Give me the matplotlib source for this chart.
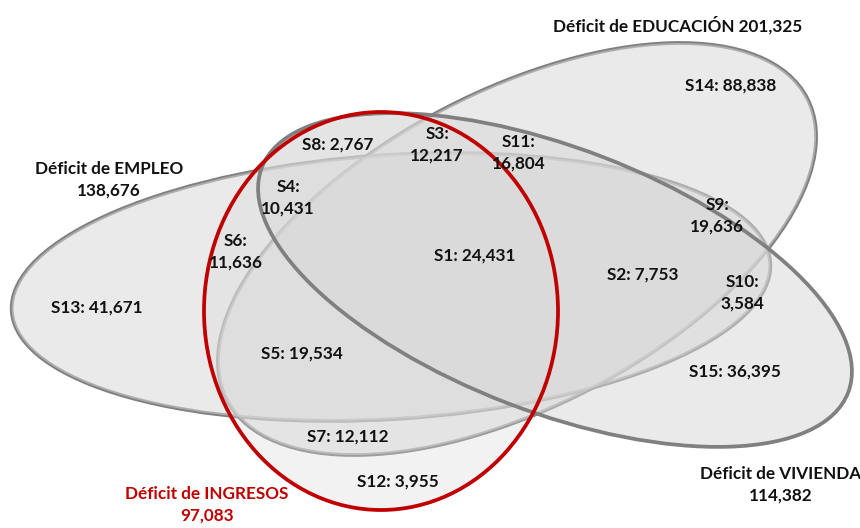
import matplotlib.pyplot as plt
from matplotlib.patches import Ellipse

# sets and totals
set_names = ["EMPLEO", "EDUCACIÓN", "VIVIENDA", "INGRESOS"]
set_totals = [138676, 201325, 114382, 97083]

# region labels and counts
regions = ["S1", "S2", "S3", "S4", "S5", "S6", "S7", "S8",
           "S9", "S10", "S11", "S12", "S13", "S14", "S15"]
values = [24431, 7753, 12217, 10431, 19534, 11636, 12112, 2767,
          19636, 3584, 16804, 3955, 41671, 88838, 36395]
two_line = ["S3", "S4", "S6", "S9", "S10", "S11"]

# layout (pixel space, y down)
ell_center = [(391, 287), (517, 249), (555, 280), (381, 311)]
ell_size = [(760, 264), (654, 316), (628, 264), (354, 398)]
ell_angle = [-3.65, -27.5, 21, 0]
ell_edge = ["#808080", "#808080", "#808080", "#C00000"]
ell_face = ["#d7d7d7", "#d7d7d7", "#d7d7d7", "#dadada"]
ell_alpha = [0.52, 0.52, 0.52, 0.33]
edge_below = [True, True, False, False]

region_pos = {
    "S1": (475, 256), "S2": (643, 275), "S3": (437, 145), "S4": (288, 198),
    "S5": (302, 354), "S6": (236, 252), "S7": (348, 437), "S8": (338, 145),
    "S9": (717, 216), "S10": (742, 293), "S11": (519, 153), "S12": (398, 482),
    "S13": (97, 308), "S14": (731, 86), "S15": (735, 372),
}
set_label_pos = [(109, 180), (678, 25), (781, 485), (207, 505)]

plt.rcParams['font.family'] = ['Lato', 'DejaVu Sans']

fig = plt.figure(figsize=(8.6, 5.28), dpi=100)
ax = fig.add_axes([0, 0, 1, 1])
ax.set_xlim(0, 860)
ax.set_ylim(528, 0)
ax.axis('off')

for i in range(4):
    if edge_below[i]:
        ax.add_patch(Ellipse(ell_center[i], *ell_size[i], angle=ell_angle[i],
                             fill=False, edgecolor=ell_edge[i], lw=2.7, zorder=1))
    ax.add_patch(Ellipse(ell_center[i], *ell_size[i], angle=ell_angle[i],
                         facecolor=ell_face[i], alpha=ell_alpha[i],
                         edgecolor='none', zorder=2))
for i in range(4):
    if not edge_below[i]:
        ax.add_patch(Ellipse(ell_center[i], *ell_size[i], angle=ell_angle[i],
                             fill=False, edgecolor=ell_edge[i], lw=2.7,
                             zorder=3 + (i == 3)))

for name, val in zip(regions, values):
    sep = "\n" if name in two_line else " "
    x, y = region_pos[name]
    ax.text(x, y, f"{name}:{sep}{val:,}", ha='center', va='center',
            fontsize=12.3, fontweight='bold', color='#111111',
            linespacing=1.4, zorder=5)

for i, (name, tot) in enumerate(zip(set_names, set_totals)):
    sep = " " if name == "EDUCACIÓN" else "\n"
    x, y = set_label_pos[i]
    col = '#C00000' if name == "INGRESOS" else '#111111'
    ax.text(x, y, f"Déficit de {name}{sep}{tot:,}", ha='center', va='center',
            fontsize=12.3, fontweight='bold', color=col, linespacing=1.4,
            zorder=5)

fig.savefig("out.png", dpi=100)
